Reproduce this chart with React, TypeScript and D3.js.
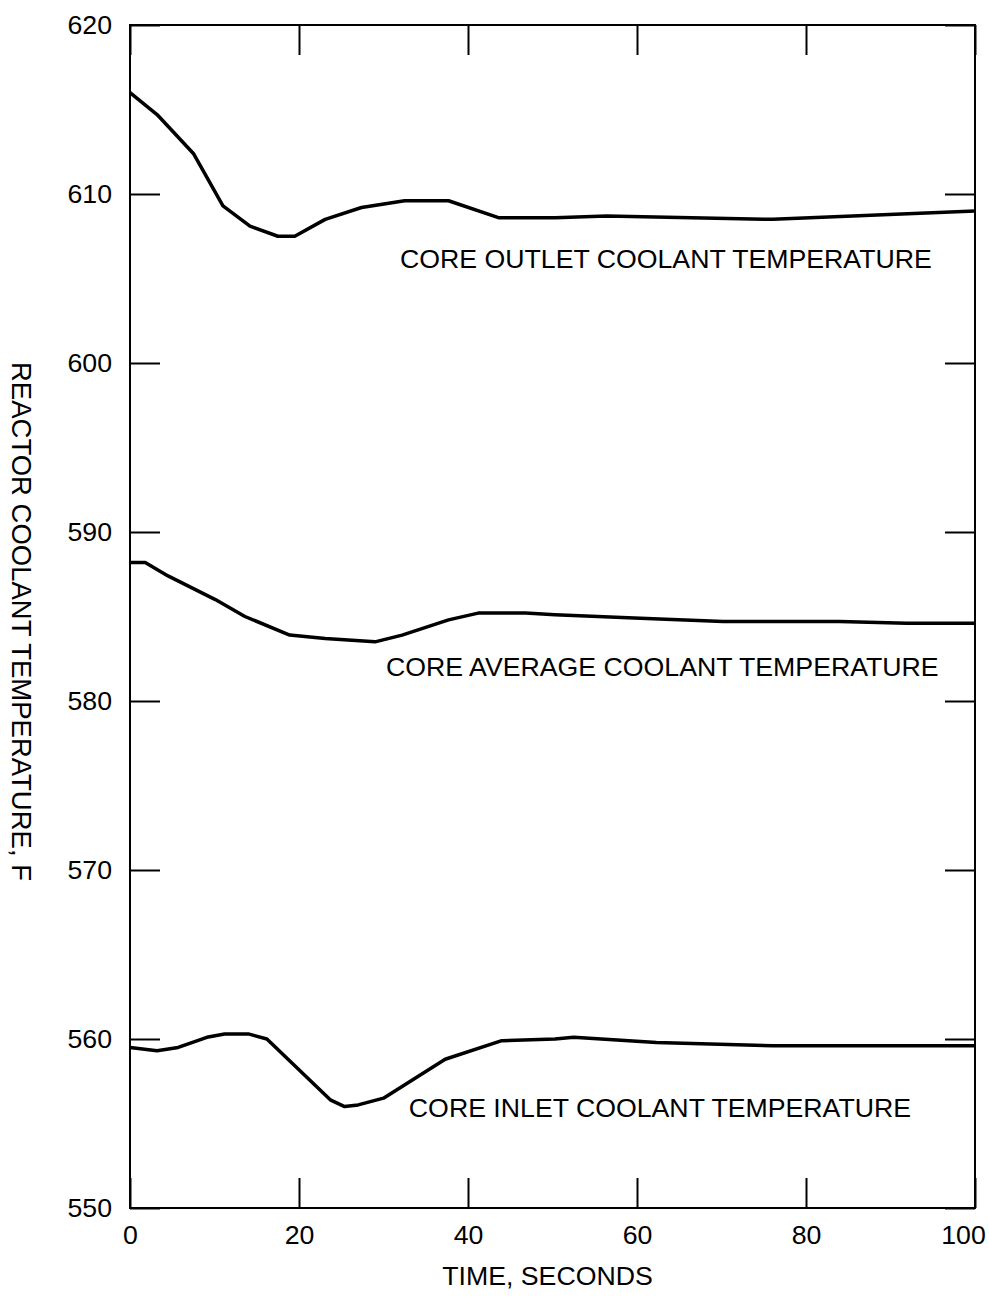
import React from "react";
import * as d3 from "d3";

const WIDTH = 989;
const HEIGHT = 1302;
const MARGINS = { top: 25, right: 14, bottom: 94, left: 130 };
const FONT = "'Liberation Sans', Arial, Helvetica, sans-serif";
const FONT_SIZE = 26.7;

// time in seconds, temperature in F
const outletTime = [0, 3.2, 7.5, 11, 14.2, 17.5, 19.5, 23.1, 27.4, 32.5, 37.7, 43.6, 50.3, 56.4, 76.1, 100];
const outletTemp = [616.0, 614.7, 612.4, 609.3, 608.1, 607.5, 607.5, 608.5, 609.2, 609.6, 609.6, 608.6, 608.6, 608.7, 608.5, 609.0];

const averageTime = [0, 1.8, 4.5, 10.1, 13.6, 18.9, 23.1, 29.0, 32.2, 37.7, 41.2, 46.8, 50.3, 60.4, 70.2, 84.0, 91.9, 100];
const averageTemp = [588.2, 588.2, 587.4, 586.0, 585.0, 583.9, 583.7, 583.5, 583.9, 584.8, 585.2, 585.2, 585.1, 584.9, 584.7, 584.7, 584.6, 584.6];

const inletTime = [0, 3.2, 5.7, 9.1, 11.2, 14.0, 16.2, 23.7, 25.4, 27.0, 30.0, 37.3, 44.0, 50.3, 52.5, 62.3, 76.1, 88.0, 100];
const inletTemp = [559.5, 559.3, 559.5, 560.1, 560.3, 560.3, 560.0, 556.4, 556.0, 556.1, 556.5, 558.8, 559.9, 560.0, 560.1, 559.8, 559.6, 559.6, 559.6];

const xTicks = [0, 20, 40, 60, 80, 100];
const yTicks = [550, 560, 570, 580, 590, 600, 610, 620];

const curveLabels = [
  { text: "CORE OUTLET COOLANT TEMPERATURE", t: 31.95, temp: 605.6 },
  { text: "CORE AVERAGE COOLANT TEMPERATURE", t: 30.3, temp: 581.5 },
  { text: "CORE INLET COOLANT TEMPERATURE", t: 33.0, temp: 555.4 },
];

const App = () => {
  const ref = React.useRef<SVGSVGElement>(null);

  React.useEffect(() => {
    const root = d3.select(ref.current!);
    root.selectAll("*").remove();

    const width = WIDTH - MARGINS.left - MARGINS.right;
    const height = HEIGHT - MARGINS.top - MARGINS.bottom;

    const svg = root
      .append("g")
      .attr("transform", `translate(${MARGINS.left}, ${MARGINS.top})`);

    const x = d3.scaleLinear().domain([0, 100]).range([0, width]);
    const y = d3.scaleLinear().domain([550, 620]).range([height, 0]);

    const styleAxis = (g: any, labels: boolean) => {
      g.select(".domain").remove();
      g.selectAll(".tick line").attr("stroke", "#000").attr("stroke-width", 2);
      g.selectAll(".tick text")
        .attr("fill", "#000")
        .attr("font-family", FONT)
        .attr("font-size", FONT_SIZE)
        .style("display", labels ? null : "none");
    };

    svg
      .append("g")
      .attr("transform", `translate(0, ${height})`)
      .call(d3.axisBottom(x).tickValues(xTicks).tickSize(-30).tickPadding(17).tickFormat(d3.format("d")))
      .call((g) => styleAxis(g, true))
      .call((g) =>
        g
          .selectAll(".tick text")
          .filter((d: any) => d === 100)
          .attr("dx", -12)
      );

    svg
      .append("g")
      .call(d3.axisTop(x).tickValues(xTicks).tickSize(-30))
      .call((g) => styleAxis(g, false));

    svg
      .append("g")
      .call(d3.axisLeft(y).tickValues(yTicks).tickSize(-30).tickPadding(18).tickFormat(d3.format("d")))
      .call((g) => styleAxis(g, true));

    svg
      .append("g")
      .attr("transform", `translate(${width}, 0)`)
      .call(d3.axisRight(y).tickValues(yTicks).tickSize(-30))
      .call((g) => styleAxis(g, false));

    svg
      .append("rect")
      .attr("width", width)
      .attr("height", height)
      .attr("fill", "none")
      .attr("stroke", "#000")
      .attr("stroke-width", 2);

    const line = d3
      .line<[number, number]>()
      .x((d) => x(d[0]))
      .y((d) => y(d[1]));

    const series: [number[], number[]][] = [
      [outletTime, outletTemp],
      [averageTime, averageTemp],
      [inletTime, inletTemp],
    ];

    series.forEach(([ts, vs]) => {
      svg
        .append("path")
        .datum(ts.map((t, i) => [t, vs[i]] as [number, number]))
        .attr("d", line)
        .attr("fill", "none")
        .attr("stroke", "#000")
        .attr("stroke-width", 3.5)
        .attr("stroke-linejoin", "round");
    });

    svg
      .selectAll("text.curve-label")
      .data(curveLabels)
      .enter()
      .append("text")
      .attr("class", "curve-label")
      .attr("x", (d) => x(d.t))
      .attr("y", (d) => y(d.temp))
      .attr("font-family", FONT)
      .attr("font-size", FONT_SIZE)
      .text((d) => d.text);

    svg
      .append("text")
      .attr("x", width / 2 - 5)
      .attr("y", height + 77)
      .attr("text-anchor", "middle")
      .attr("font-family", FONT)
      .attr("font-size", FONT_SIZE)
      .text("TIME, SECONDS");

    svg
      .append("text")
      .attr("transform", `translate(${12 - MARGINS.left}, ${height / 2 + 5}) rotate(90)`)
      .attr("text-anchor", "middle")
      .attr("font-family", FONT)
      .attr("font-size", 27.5)
      .text("REACTOR COOLANT TEMPERATURE, F");
  }, []);

  return (
    <svg
      ref={ref}
      width={WIDTH}
      height={HEIGHT}
      style={{ position: "absolute", left: 0, top: 0, background: "#fff" }}
    />
  );
};

export default App;
